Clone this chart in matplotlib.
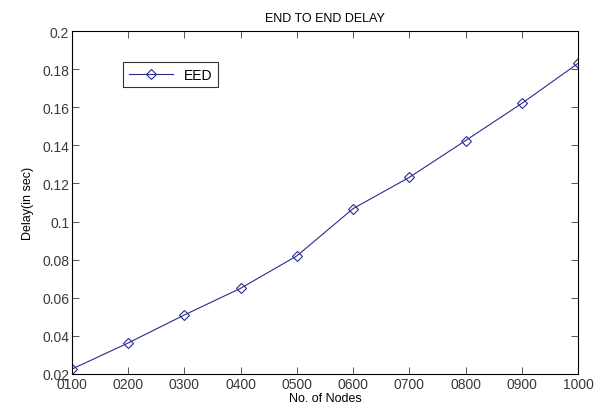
import matplotlib
matplotlib.use('Agg')
import matplotlib.pyplot as plt

nodes = [100, 200, 300, 400, 500, 600, 700, 800, 900, 1000]
delay = [0.0226, 0.0363, 0.0510, 0.0650, 0.0820, 0.1068, 0.1232, 0.1425, 0.1620, 0.1830]
xtick_labels = ['0100', '0200', '0300', '0400', '0500', '0600', '0700', '0800', '0900', '1000']
yticks = [0.02, 0.04, 0.06, 0.08, 0.1, 0.12, 0.14, 0.16, 0.18, 0.2]
ytick_labels = ['0.02', '0.04', '0.06', '0.08', '0.1', '0.12', '0.14', '0.16', '0.18', '0.2']

plt.rcParams['font.family'] = ['Liberation Sans', 'DejaVu Sans']

fig = plt.figure(figsize=(6.09, 4.10), dpi=100)
ax = fig.add_axes([72/609, 1 - 375/410, 506/609, 343/410])
ax.plot(nodes, delay, '-', color='#2b2b8f', linewidth=0.8, marker='D',
        markersize=5, markerfacecolor='none', markeredgecolor='#2b2b8f',
        markeredgewidth=0.8, label='EED')
ax.set_xlim(100, 1000)
ax.set_ylim(0.02, 0.2)
ax.set_xticks(nodes)
ax.set_xticklabels(xtick_labels)
ax.set_yticks(yticks)
ax.set_yticklabels(ytick_labels)
ax.tick_params(direction='in', length=5, width=0.6, labelsize=10, colors='#3a3a3a',
               top=True, right=True, pad=2)
for s in ax.spines.values():
    s.set_linewidth(0.8)
ax.set_xlabel('No. of Nodes', fontsize=9, labelpad=1)
ax.set_ylabel('Delay(in sec)', fontsize=9, labelpad=6)
ax.set_title('END TO END DELAY', fontsize=9, pad=7)
leg = ax.legend(loc='upper left', bbox_to_anchor=(0.087, 0.93), fancybox=False,
                edgecolor='black', fontsize=10, handlelength=3.2, borderpad=0.4)
leg.get_frame().set_linewidth(0.8)

plt.savefig('out.png', dpi=100)
plt.close()
